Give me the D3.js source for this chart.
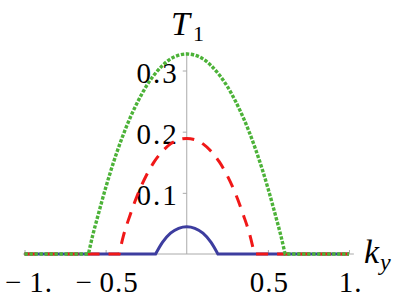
<!DOCTYPE html>
<html>
<head>
<meta charset="utf-8">
<script src="https://cdn.jsdelivr.net/npm/d3@7"></script>
<style>
  body { margin: 0; background: #fff; }
</style>
</head>
<body>
<script>
// T1 against k_y, three curves, flat at zero outside their arches

var xTicks = [-1, -0.5, 0.5, 1];
var xTickLabels = ["\u2212\u20091.", "\u2212\u20090.5", "0.5", "1."];
var yTicks = [0.1, 0.2, 0.3];
var yTickLabels = ["0.1", "0.2", "0.3"];

// blue, solid
var kyBlue = [-1, -0.192, -0.15, -0.1, -0.05, 0, 0.05, 0.1, 0.15, 0.192, 1];
var t1Blue = [0, 0, 0.019, 0.034, 0.042, 0.0446, 0.042, 0.034, 0.019, 0, 0];

// red, dashed
var kyRed = [-1, -0.417, -0.39, -0.35, -0.3, -0.25, -0.2, -0.15, -0.1, -0.05, 0,
             0.05, 0.1, 0.15, 0.2, 0.25, 0.3, 0.35, 0.39, 0.417, 1];
var t1Red = [0, 0, 0.030, 0.063, 0.099, 0.128, 0.151, 0.168, 0.180, 0.187, 0.189,
             0.187, 0.180, 0.168, 0.151, 0.128, 0.099, 0.063, 0.030, 0, 0];

// green, dotted
var kyGreen = [-1, -0.606, -0.58, -0.55, -0.5, -0.45, -0.4, -0.35, -0.3, -0.25, -0.2, -0.15, -0.1, -0.05, 0,
               0.05, 0.1, 0.15, 0.2, 0.25, 0.3, 0.35, 0.4, 0.45, 0.5, 0.55, 0.58, 0.606, 1];
var t1Green = [0, 0, 0.030, 0.060, 0.108, 0.151, 0.189, 0.222, 0.250, 0.274, 0.293, 0.308, 0.319, 0.325, 0.327,
               0.325, 0.319, 0.308, 0.293, 0.274, 0.250, 0.222, 0.189, 0.151, 0.108, 0.060, 0.030, 0, 0];

var width = 399;
var height = 300;

var svg = d3.select("body")
  .append("svg")
  .attr("width", width)
  .attr("height", height);

var x = d3.scaleLinear()
  .domain([-1, 1])
  .range([24.5, 349]);

var y = d3.scaleLinear()
  .domain([0, 0.3])
  .range([254, 70.5]);

var axisColor = "#aaa";
var serif = "'Liberation Serif', 'DejaVu Serif', serif";

// x axis
var gx = svg.append("g")
  .attr("transform", "translate(0," + y(0) + ")")
  .call(d3.axisBottom(x)
    .tickValues(xTicks)
    .tickSizeInner(-4)
    .tickSizeOuter(0)
    .tickFormat(function(d, i) { return xTickLabels[i]; }));

gx.select(".domain")
  .attr("d", "M" + x(-1.01) + ",0H" + x(1.03))
  .attr("stroke", axisColor);
gx.selectAll(".tick line").attr("stroke", axisColor);
gx.selectAll(".tick text")
  .attr("y", 37.5)
  .attr("dy", null)
  .attr("dx", function(d, i) { return i == 0 ? 4 : 1; })
  .attr("fill", "#000")
  .style("font-family", serif)
  .style("font-size", "29px")
  .style("letter-spacing", "1px");

// y axis
var gy = svg.append("g")
  .attr("transform", "translate(" + x(0) + ",0)")
  .call(d3.axisLeft(y)
    .tickValues(yTicks)
    .tickSizeInner(4)
    .tickSizeOuter(0)
    .tickPadding(4)
    .tickFormat(function(d, i) { return yTickLabels[i]; }));

gy.select(".domain")
  .attr("d", "M0," + y(0) + "V" + y(0.33))
  .attr("stroke", axisColor);
gy.selectAll(".tick line").attr("stroke", axisColor);
gy.selectAll(".tick text")
  .attr("dy", "0.4em")
  .attr("fill", "#000")
  .style("font-family", serif)
  .style("font-size", "29px")
  .style("letter-spacing", "2px");

// flat ends stay straight, the arch between the two zero points is smoothed
function seriesPath(ks, ts) {
  var pts = ks.map(function(k, i) { return [x(k), y(ts[i])]; });
  var arch = d3.line().curve(d3.curveMonotoneX)(pts.slice(1, pts.length - 1));
  return "M" + pts[0] + "L" + arch.slice(1) + "L" + pts[pts.length - 1];
}

svg.append("path")
  .attr("d", seriesPath(kyBlue, t1Blue))
  .attr("fill", "none")
  .attr("stroke", "#3d3d9f")
  .attr("stroke-width", 3);

svg.append("path")
  .attr("d", seriesPath(kyRed, t1Red))
  .attr("fill", "none")
  .attr("stroke", "#f01818")
  .attr("stroke-width", 3)
  .attr("stroke-dasharray", "12,9");

svg.append("path")
  .attr("d", seriesPath(kyGreen, t1Green))
  .attr("fill", "none")
  .attr("stroke", "#4cb238")
  .attr("stroke-width", 3.4)
  .attr("stroke-dasharray", "3.4,1.6");

// axis labels
var tl = svg.append("text")
  .attr("x", 171)
  .attr("y", 35)
  .attr("fill", "#000")
  .style("font-family", serif);
tl.append("tspan").style("font-style", "italic").style("font-size", "34px").text("T");
tl.append("tspan").attr("dy", 6).attr("dx", 3).style("font-size", "22px").text("1");

var kl = svg.append("text")
  .attr("x", 364)
  .attr("y", 263)
  .attr("fill", "#000")
  .style("font-family", serif)
  .style("font-style", "italic");
kl.append("tspan").style("font-size", "34px").text("k");
kl.append("tspan").attr("dy", 7).attr("dx", 1).style("font-size", "24px").text("y");
</script>
</body>
</html>
